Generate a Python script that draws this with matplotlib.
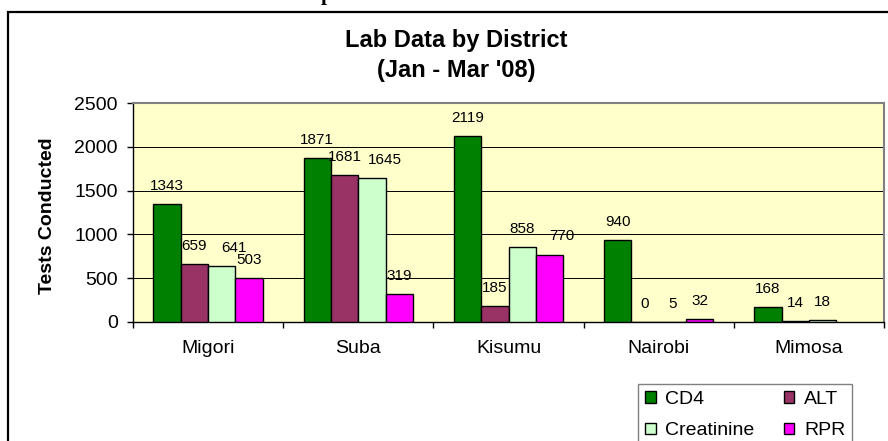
import numpy as np
import matplotlib
matplotlib.use("Agg")
import matplotlib.pyplot as plt
from matplotlib.patches import Rectangle, Patch

plt.rcParams['font.family'] = ['Liberation Sans', 'DejaVu Sans']

# data
districts = ["Migori", "Suba", "Kisumu", "Nairobi", "Mimosa"]
cd4 = [1343, 1871, 2119, 940, 168]
alt = [659, 1681, 185, 0, 14]
creatinine = [641, 1645, 858, 5, 18]
rpr = [503, 319, 770, 32, np.nan]   # no RPR figure for Mimosa

series_names = ["CD4", "ALT", "Creatinine", "RPR"]
series_colors = ["#008000", "#993366", "#CCFFCC", "#FF00FF"]
yticks = [0, 500, 1000, 1500, 2000, 2500]

W, H = 888, 441
fig = plt.figure(figsize=(W / 100, H / 100), dpi=100)

# axes placed in pixel terms
left, right, top, bottom = 133, 884, 103, 322
ax = fig.add_axes([left / W, 1 - bottom / H, (right - left) / W, (bottom - top) / H])
ax.set_facecolor("#FFFFCC")
ax.set_xlim(-0.5, len(districts) - 0.5)
ax.set_ylim(0, 2500)

x = np.arange(len(districts))
bw = 0.182
all_series = [cd4, alt, creatinine, rpr]
px_per_unit = (bottom - top) / 2500
for i, (vals, col) in enumerate(zip(all_series, series_colors)):
    pos = x + (i - 1.5) * bw
    ax.bar(pos, vals, width=bw, color=col, edgecolor="black", linewidth=1.0, zorder=3)
    for j, (px, v) in enumerate(zip(pos, vals)):
        if np.isnan(v):
            continue
        dx = 0
        # nudge a wide label sideways when it would sit on its left neighbour's label
        if i > 0:
            prev = all_series[i - 1][j]
            if abs(v - prev) * px_per_unit < 12 and v >= 100 and prev >= 100:
                dx = 9
        ax.annotate(f"{int(v)}", (px, v), xytext=(dx, 13), textcoords="offset points",
                    ha="center", va="center", fontsize=11, zorder=4)

ax.set_yticks(yticks)
ax.yaxis.grid(True, color="black", linewidth=0.7, zorder=1)
ax.set_axisbelow(True)

ax.set_xticks(x)
ax.set_xticklabels(districts, fontsize=14)
ax.set_xticks(np.arange(-0.5, len(districts)), minor=True)
ax.tick_params(axis="x", which="major", length=0, pad=13)
ax.tick_params(axis="x", which="minor", length=4, width=1, direction="out")
ax.tick_params(axis="y", labelsize=14, length=4, width=1, pad=7, direction="out")

for s in ["left", "bottom"]:
    ax.spines[s].set_color("black")
    ax.spines[s].set_linewidth(1.0)
for s in ["top", "right"]:
    ax.spines[s].set_color("#808080")
    ax.spines[s].set_linewidth(1.5)

fig.text(48 / W, 1 - 216 / H, "Tests Conducted", rotation=90, ha="center", va="center",
         fontsize=14, fontweight="bold")

fig.text(456 / W, 1 - 40 / H, "Lab Data by District", ha="center", va="center",
         fontsize=17, fontweight="bold")
fig.text(456 / W, 1 - 71 / H, "(Jan - Mar '08)", ha="center", va="center",
         fontsize=17, fontweight="bold")

# outer chart frame, cut off at right and bottom
fig.add_artist(Rectangle((8 / W, -0.05), 1.2, 1 - 12 / H + 0.05, transform=fig.transFigure,
                         fill=False, edgecolor="black", linewidth=1.6))

# descender of a letter from the page text above
fig.text(327 / W, 1.0, "p", ha="center", va="baseline", fontsize=15, fontweight="bold",
         family="Liberation Serif")

# legend fills column by column, so order handles to get CD4/ALT on the first row
order = [0, 2, 1, 3]
handles = [Patch(facecolor=series_colors[k], edgecolor="black", linewidth=1.0) for k in order]
labels = [series_names[k] for k in order]
leg = fig.legend(handles, labels, ncol=2, loc="upper left",
                 bbox_to_anchor=(638 / W, 1 - 384 / H), fontsize=14,
                 handlelength=0.55, handleheight=0.55, handletextpad=0.5,
                 columnspacing=1.5, labelspacing=0.75, borderpad=0.35,
                 fancybox=False, framealpha=1, borderaxespad=0)
leg.get_frame().set_edgecolor("#808080")
leg.get_frame().set_linewidth(1.0)

fig.savefig("out.png", dpi=100)
